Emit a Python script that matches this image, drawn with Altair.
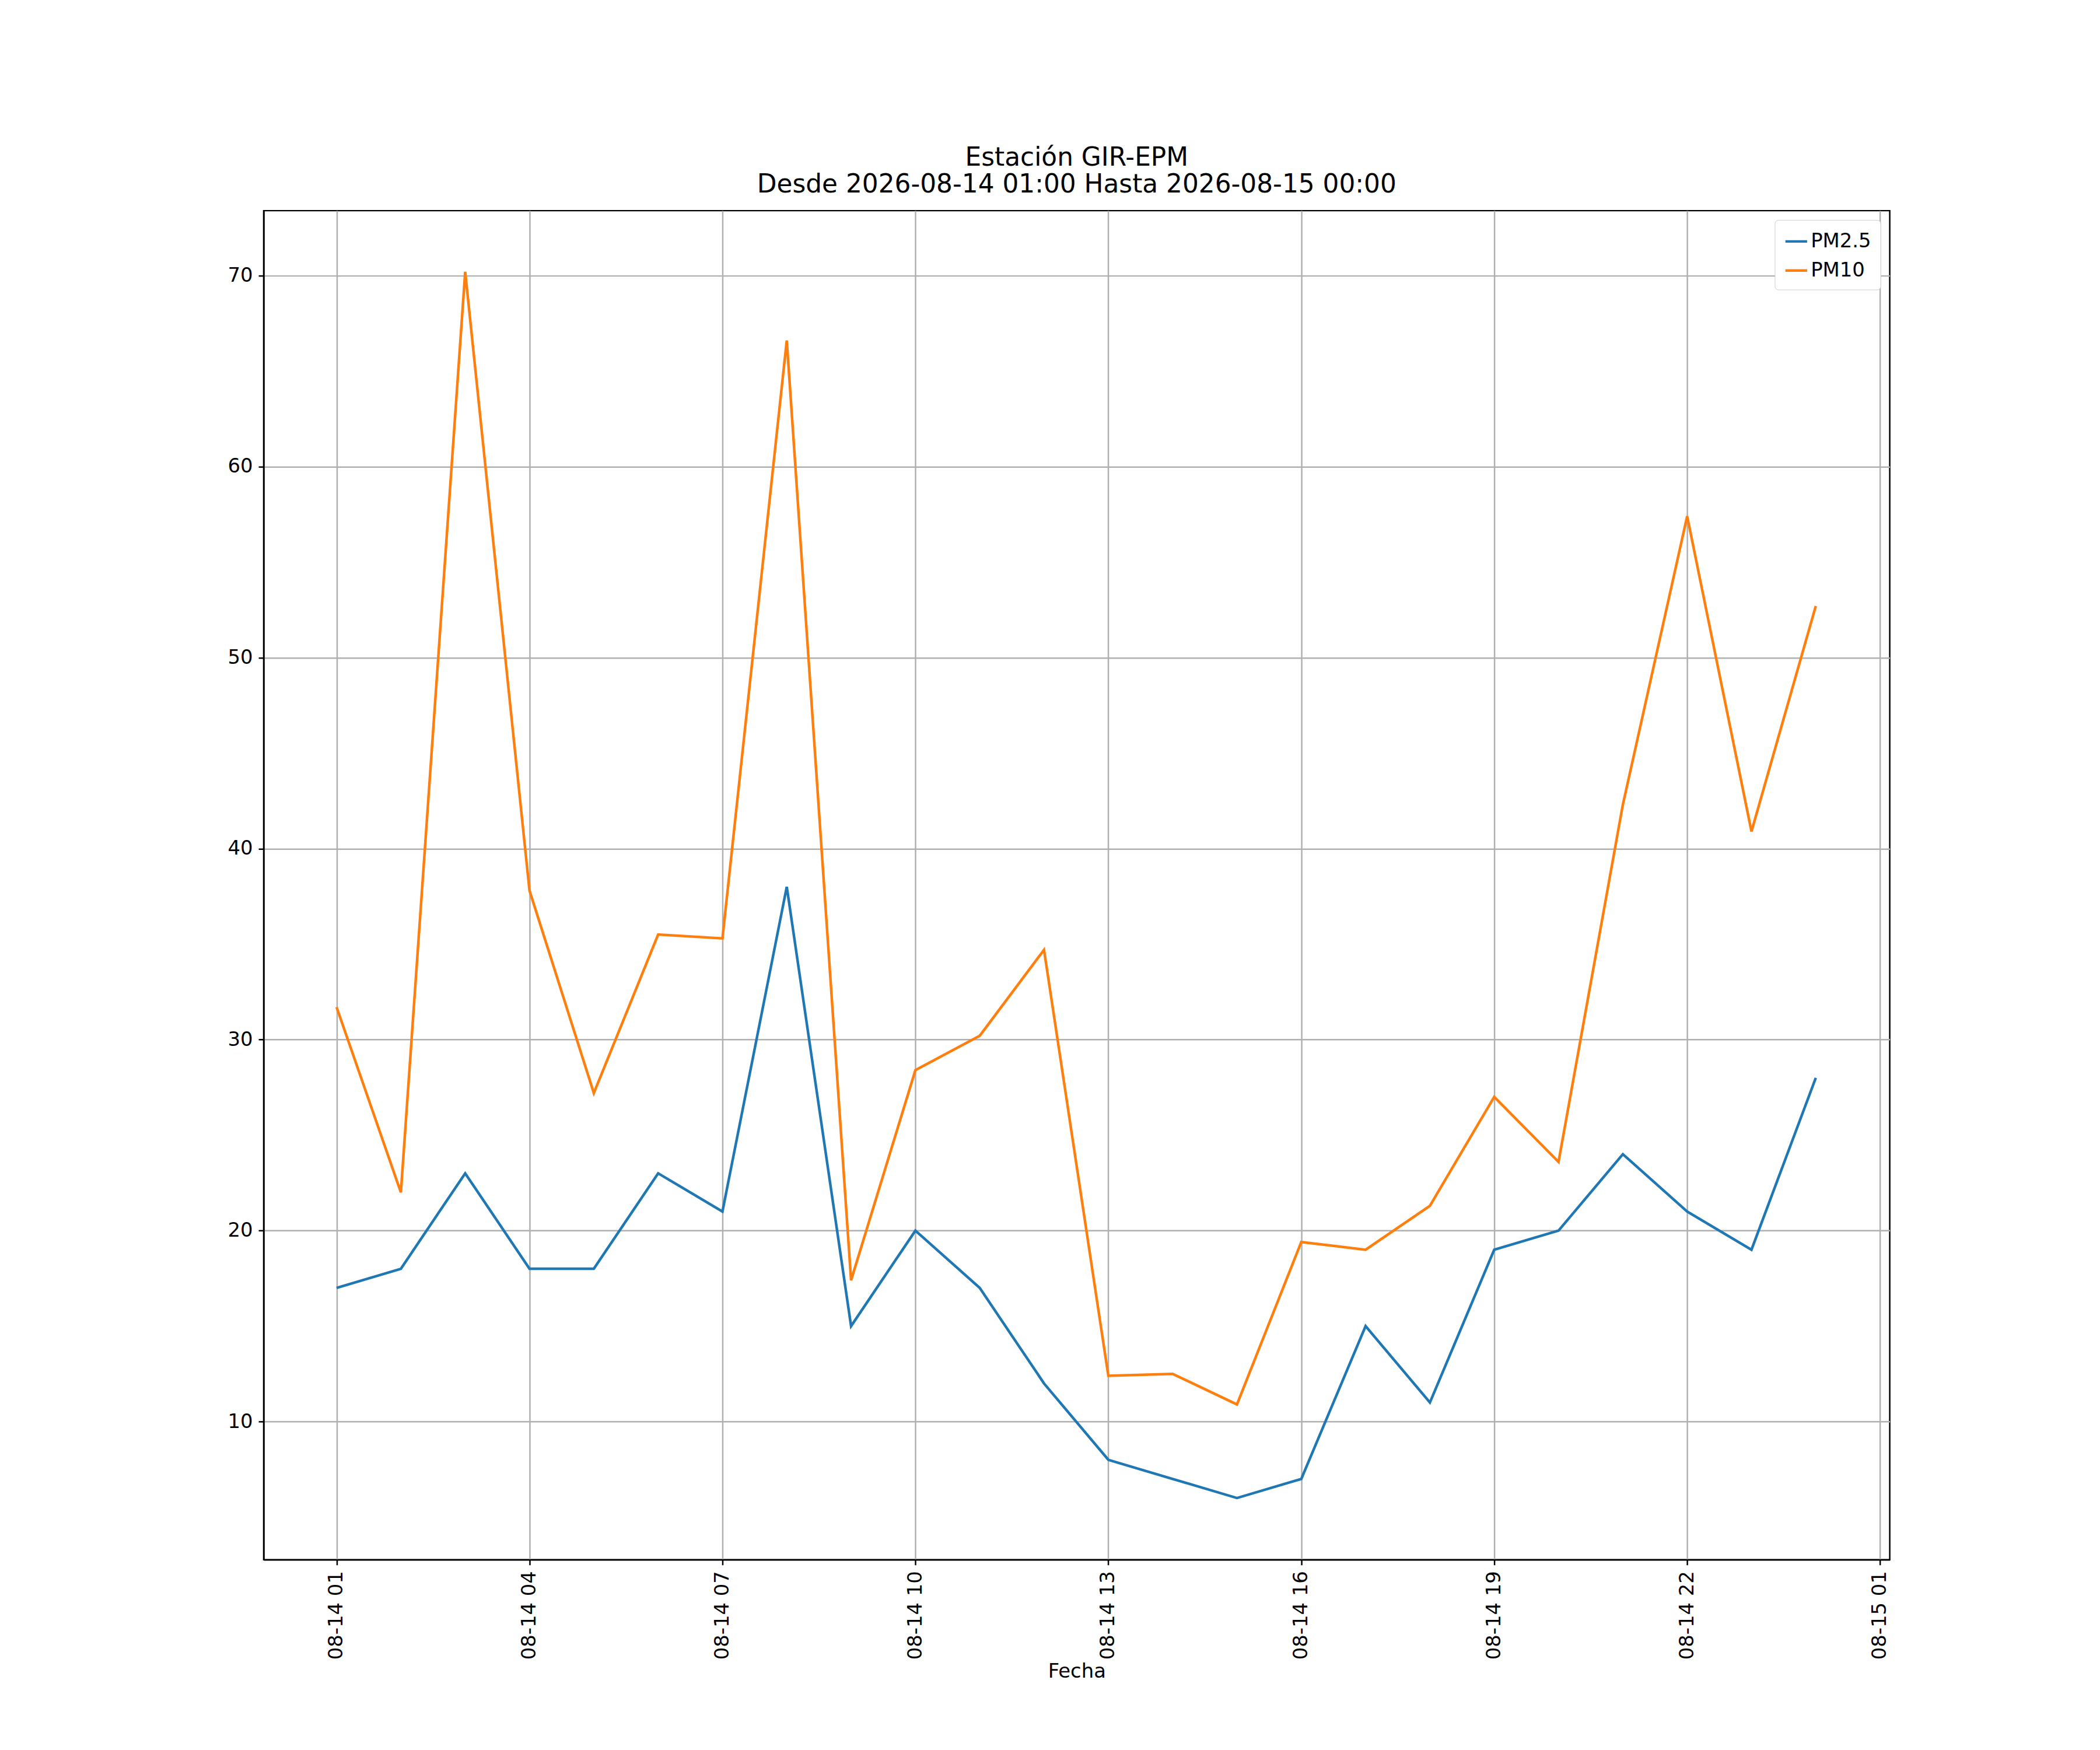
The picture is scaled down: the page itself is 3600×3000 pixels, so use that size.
import altair as alt
import pandas as pd

hours = ["2026-08-14T%02d:00" % h for h in range(1, 24)] + ["2026-08-15T00:00"]
pm25 = [17, 18, 23, 18, 18, 23, 21, 38, 15, 20, 17, 12, 8, 7, 6, 7, 15, 11, 19, 20, 24, 21, 19, 28]
pm10 = [31.7, 22, 70.2, 37.8, 27.2, 35.5, 35.3, 66.6, 17.4, 28.4, 30.2, 34.7,
        12.4, 12.5, 10.9, 19.4, 19.0, 21.3, 27.0, 23.6, 42.3, 57.4, 40.9, 52.7]

df = pd.concat([
    pd.DataFrame({"Fecha": hours, "valor": pm25, "serie": "PM2.5"}),
    pd.DataFrame({"Fecha": hours, "valor": pm10, "serie": "PM10"}),
])

chart = alt.Chart(df).mark_line(strokeWidth=4.5).encode(
    x=alt.X("Fecha:T", title="Fecha",
            scale=alt.Scale(domain=["2026-08-13T23:52", "2026-08-15T01:09"]),
            axis=alt.Axis(format="%m-%d %H", labelAngle=270, values=[
                "2026-08-14T01:00", "2026-08-14T04:00", "2026-08-14T07:00", "2026-08-14T10:00",
                "2026-08-14T13:00", "2026-08-14T16:00", "2026-08-14T19:00", "2026-08-14T22:00",
                "2026-08-15T01:00"])),
    y=alt.Y("valor:Q", title=None, scale=alt.Scale(domain=[2.77, 73.4], nice=False, zero=False),
            axis=alt.Axis(values=[10, 20, 30, 40, 50, 60, 70])),
    color=alt.Color("serie:N", sort=["PM2.5", "PM10"],
                    scale=alt.Scale(domain=["PM2.5", "PM10"], range=["#1f77b4", "#ff7f0e"]),
                    legend=alt.Legend(title=None, orient="top-right", symbolType="stroke",
                                      symbolStrokeWidth=4.5, symbolSize=1400, labelFontSize=34,
                                      fillColor="white", strokeColor="#cccccc", padding=16,
                                      offset=16, rowPadding=12, cornerRadius=6)),
).properties(
    width=2800, height=2323,
    autosize=alt.AutoSizeParams(type="none"),
    padding={"left": 446, "top": 348, "right": 354, "bottom": 329},
    title=alt.Title(["Estación GIR-EPM", "Desde 2026-08-14 01:00 Hasta 2026-08-15 00:00"],
                    fontSize=44, fontWeight="normal", font="DejaVu Sans", offset=22),
).configure_axis(
    grid=True, gridColor="#b0b0b0", gridWidth=2.5, domainColor="black", domainWidth=2.5,
    tickColor="black", tickSize=9, tickWidth=2.5, labelFontSize=34, titleFontSize=34,
    labelFont="DejaVu Sans", titleFont="DejaVu Sans", titleFontWeight="normal",
    labelColor="black", titleColor="black", labelPadding=10,
).configure_view(stroke="black", strokeWidth=2.5).configure_legend(labelFont="DejaVu Sans")

chart.save("out.html", embed_options={"renderer": "svg", "actions": False})
